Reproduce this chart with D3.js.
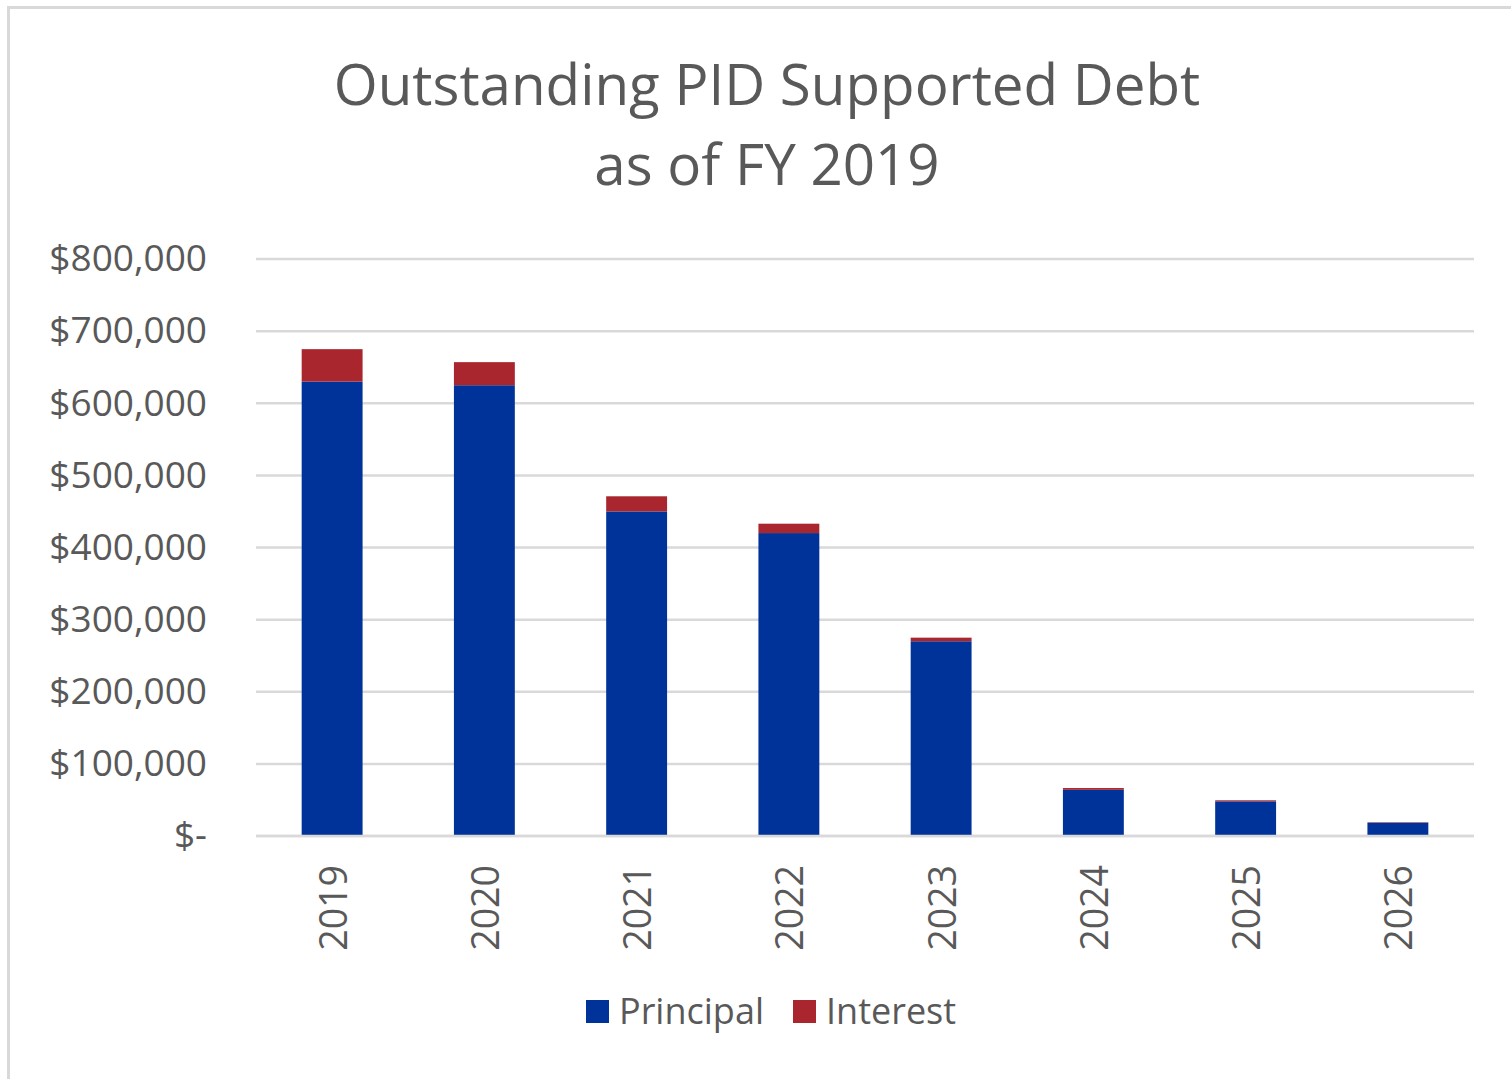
<!DOCTYPE html>
<html>
<head>
<meta charset="utf-8">
<script src="https://cdn.jsdelivr.net/npm/d3@7"></script>
<style>
  html, body { margin: 0; padding: 0; background: #fff; }
  svg text { font-family: "Open Sans", sans-serif; fill: #595959; }
</style>
</head>
<body>
<div id="chart"></div>
<script>
// ── Data ─────────────────────────────────────────────────────────────
const YEARS     = ['2019', '2020', '2021', '2022', '2023', '2024', '2025', '2026'];
const PRINCIPAL = [630000, 625000, 450000, 420000, 270000, 64000, 48000, 18500];
const INTEREST  = [45000, 32000, 21000, 13000, 5000, 2500, 1500, 600];
const Y_TICKS   = [0, 100000, 200000, 300000, 400000, 500000, 600000, 700000, 800000];
const SERIES    = ['Principal', 'Interest'];
const COLORS    = { Principal: '#003399', Interest: '#A9262F' };

const W = 1511, H = 1079;
const margin = { top: 259, right: 37, bottom: 243, left: 256 };
const iW = W - margin.left - margin.right;
const iH = H - margin.top - margin.bottom;

const rows = YEARS.map((y, i) => ({ year: y, Principal: PRINCIPAL[i], Interest: INTEREST[i] }));
const stacked = d3.stack().keys(SERIES)(rows);

const svg = d3.select('#chart').append('svg')
  .attr('width', W).attr('height', H);

// chart frame (only left/top visible in the crop)
svg.append('rect')
  .attr('x', 8.5).attr('y', 7.5)
  .attr('width', W + 20).attr('height', H + 20)
  .attr('fill', 'none').attr('stroke', '#d9d9d9').attr('stroke-width', 3);

// ── Title ────────────────────────────────────────────────────────────
const title = svg.append('text')
  .attr('x', 767).attr('text-anchor', 'middle')
  .style('font-size', '56.5px');
title.append('tspan').attr('x', 767).attr('y', 105).text('Outstanding PID Supported Debt');
title.append('tspan').attr('x', 767).attr('y', 185).text('as of FY 2019');

const g = svg.append('g').attr('transform', `translate(${margin.left},${margin.top})`);

const x = d3.scaleBand().domain(YEARS).range([0, iW]).paddingInner(0.6).paddingOuter(0.3);
const y = d3.scaleLinear().domain([0, 800000]).range([iH, 0]);

// ── Gridlines ────────────────────────────────────────────────────────
g.append('g')
  .selectAll('line').data(Y_TICKS).join('line')
  .attr('x1', 0).attr('x2', iW)
  .attr('y1', d => y(d)).attr('y2', d => y(d))
  .attr('stroke', '#d9d9d9').attr('stroke-width', 2.5);

// ── Y axis labels ────────────────────────────────────────────────────
const fmt = d => d === 0 ? '$-' : '$' + d3.format(',')(d);
const yAxis = g.append('g')
  .attr('transform', 'translate(-49,0)')
  .call(d3.axisLeft(y).tickValues(Y_TICKS).tickFormat(fmt).tickSize(0).tickPadding(0));
yAxis.select('.domain').remove();
yAxis.selectAll('text')
  .attr('fill', '#595959')
  .style('font-family', '"Open Sans", sans-serif')
  .style('font-size', '37px');

// ── Bars ─────────────────────────────────────────────────────────────
g.append('g').selectAll('g').data(stacked).join('g')
  .attr('fill', d => COLORS[d.key])
  .selectAll('rect').data(d => d).join('rect')
  .attr('x', d => x(d.data.year))
  .attr('width', x.bandwidth())
  .attr('y', d => y(d[1]))
  .attr('height', d => y(d[0]) - y(d[1]));

// baseline redrawn on top
g.append('line')
  .attr('x1', 0).attr('x2', iW).attr('y1', y(0)).attr('y2', y(0))
  .attr('stroke', '#d9d9d9').attr('stroke-width', 2.5);

// ── X axis labels (rotated) ──────────────────────────────────────────
g.append('g').selectAll('text').data(YEARS).join('text')
  .attr('transform', d => `translate(${x(d) + x.bandwidth() / 2},${iH + 29}) rotate(-90)`)
  .attr('text-anchor', 'end')
  .attr('dominant-baseline', 'central')
  .style('font-size', '37.5px')
  .text(d => d);

// ── Legend ───────────────────────────────────────────────────────────
const legendItems = [
  { key: 'Principal', x: 586 },
  { key: 'Interest',  x: 793 },
];
const lg = svg.append('g');
legendItems.forEach(item => {
  lg.append('rect')
    .attr('x', item.x).attr('y', 1000)
    .attr('width', 23).attr('height', 23)
    .attr('fill', COLORS[item.key]);
  lg.append('text')
    .attr('x', item.x + 33).attr('y', 1024)
    .style('font-size', '36px')
    .text(item.key);
});
</script>
</body>
</html>
